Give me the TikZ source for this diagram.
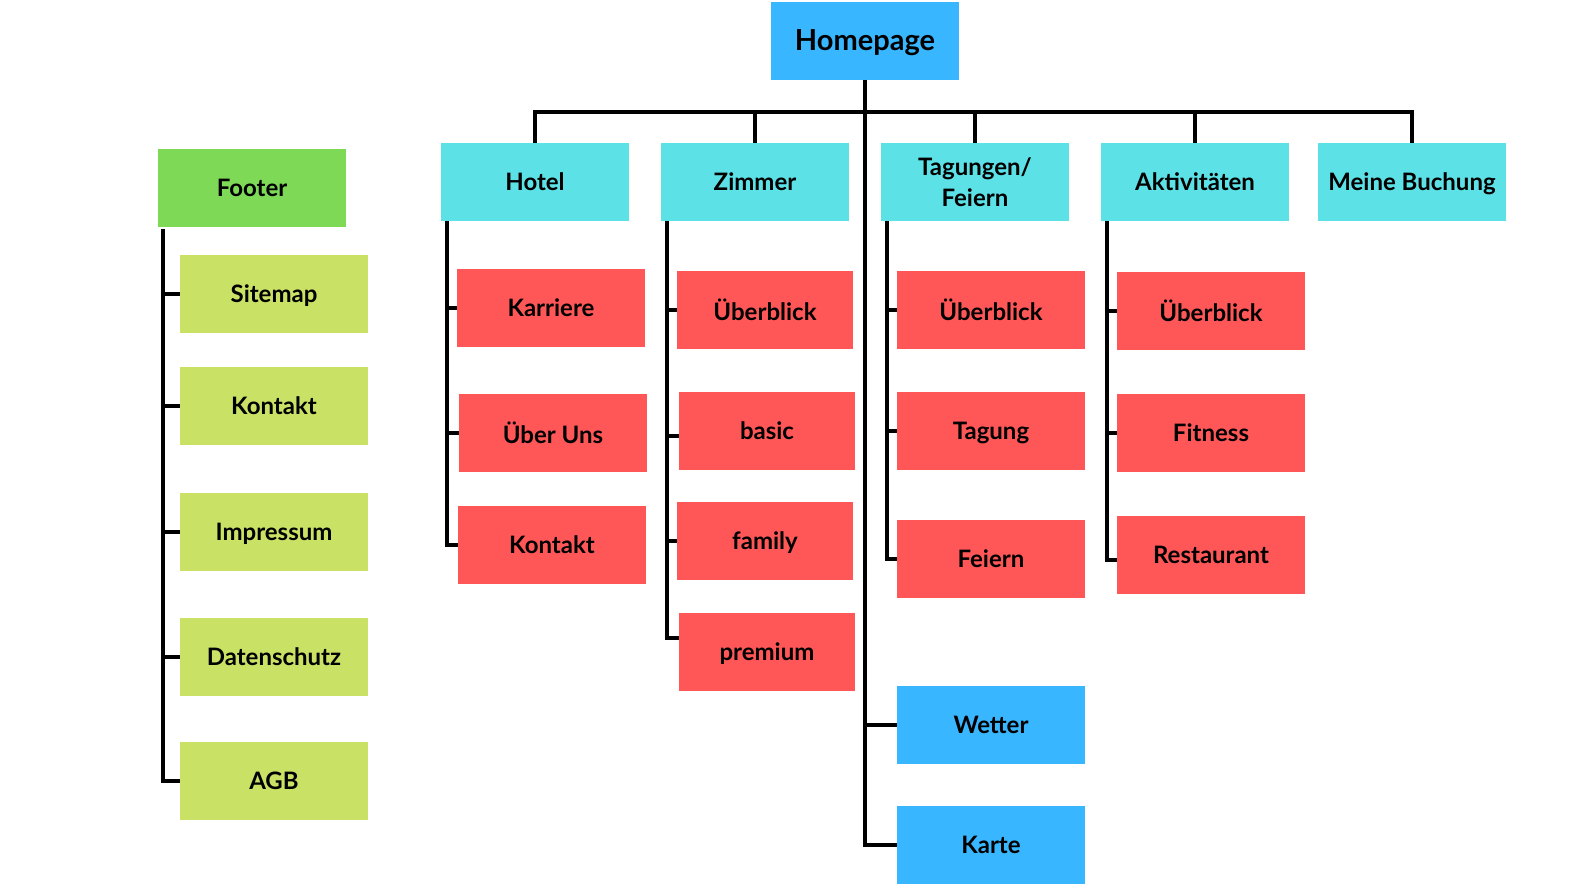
\documentclass[tikz,border=0pt]{standalone}
\usepackage{fontspec}
\setmainfont{Lato}
\definecolor{cblue}{HTML}{38B6FF}
\definecolor{ccyan}{HTML}{5CE1E6}
\definecolor{cgreen}{HTML}{7ED957}
\definecolor{clime}{HTML}{C9E265}
\definecolor{cred}{HTML}{FF5757}
\begin{document}
\begin{tikzpicture}[x=0.5pt,y=-0.5pt,
  box/.style={minimum width=94pt,minimum height=39pt,inner sep=0pt,font=\bfseries\fontsize{12}{15.5}\selectfont,align=center,text=black,text depth=0pt},
  small/.style={box,minimum width=88pt},
  conn/.style={line width=2pt,black}]
\useasboundingbox (0,0) rectangle (1570,889);
% nodes
\node[box,fill=cblue,font=\bfseries\fontsize{14.5}{16}\selectfont] (home) at (865,40.5) {Homepage};
\node[box,fill=ccyan] (hotel) at (535,182) {Hotel};
\node[box,fill=ccyan] (zimmer) at (755,182) {Zimmer};
\node[box,fill=ccyan] (tag) at (975,182) {Tagungen/\\Feiern};
\node[box,fill=ccyan] (akt) at (1195,182) {Aktivitäten};
\node[box,fill=ccyan] (buch) at (1412,182) {Meine Buchung};
\node[box,fill=cgreen] (footer) at (252,188) {Footer};
\node[box,fill=clime] (f1) at (274,294) {Sitemap};
\node[box,fill=clime] (f2) at (274,406) {Kontakt};
\node[box,fill=clime] (f3) at (274,532) {Impressum};
\node[box,fill=clime] (f4) at (274,657) {Datenschutz};
\node[box,fill=clime] (f5) at (274,781) {AGB};
\node[box,fill=cred] (h1) at (551,308) {Karriere};
\node[box,fill=cred] (h2) at (553,432.5) {Über Uns};
\node[box,fill=cred] (h3) at (552,544.5) {Kontakt};
\node[small,fill=cred] (z1) at (765,310) {Überblick};
\node[small,fill=cred] (z2) at (767,430.5) {basic};
\node[small,fill=cred] (z3) at (765,540.5) {family};
\node[small,fill=cred] (z4) at (767,652) {premium};
\node[box,fill=cred] (t1) at (991,310) {Überblick};
\node[box,fill=cred] (t2) at (991,430.5) {Tagung};
\node[box,fill=cred] (t3) at (991,558.5) {Feiern};
\node[box,fill=cred] (a1) at (1211,311) {Überblick};
\node[box,fill=cred] (a2) at (1211,432.5) {Fitness};
\node[box,fill=cred] (a3) at (1211,554.5) {Restaurant};
\node[box,fill=cblue] (wetter) at (991,724.5) {Wetter};
\node[box,fill=cblue] (karte) at (991,844.5) {Karte};
% connectors
\coordinate (bar) at (0,112);
\draw[conn] (home.south) |- (karte.west);
\draw[conn] (wetter.west) -- (wetter.west -| home.south);
\draw[conn] (hotel.north) |- (bar -| buch.north) -- (buch.north);
\foreach \n in {zimmer,tag,akt}{\draw[conn] (\n.north) -- (\n.north |- bar);}
% footer
\coordinate (ft) at ([xshift=2.5pt]footer.south west);
\draw[conn] ([yshift=-1pt]ft) |- (f5.west);
\foreach \n in {f1,f2,f3,f4}{\draw[conn] (\n.west) -- (\n.west -| ft);}
% hotel
\coordinate (ht) at ([xshift=3pt]hotel.south west);
\draw[conn] (ht) |- (h3.west);
\foreach \n in {h1,h2}{\draw[conn] (\n.west) -- (\n.west -| ht);}
% zimmer
\coordinate (zt) at ([xshift=3pt]zimmer.south west);
\draw[conn] (zt) |- ([yshift=7pt]z4.west);
\draw[conn] (z1.west) -- (z1.west -| zt);
\draw[conn] ([yshift=-2.5pt]z2.west) -- ([yshift=-2.5pt]z2.west -| zt);
\draw[conn] (z3.west) -- (z3.west -| zt);
% tagungen
\coordinate (tt) at ([xshift=3pt]tag.south west);
\draw[conn] (tt) |- (t3.west);
\foreach \n in {t1,t2}{\draw[conn] (\n.west) -- (\n.west -| tt);}
% aktivitaeten
\coordinate (at) at ([xshift=3pt]akt.south west);
\draw[conn] (at) |- ([yshift=-2.5pt]a3.west);
\foreach \n in {a1,a2}{\draw[conn] (\n.west) -- (\n.west -| at);}
\end{tikzpicture}
\end{document}
